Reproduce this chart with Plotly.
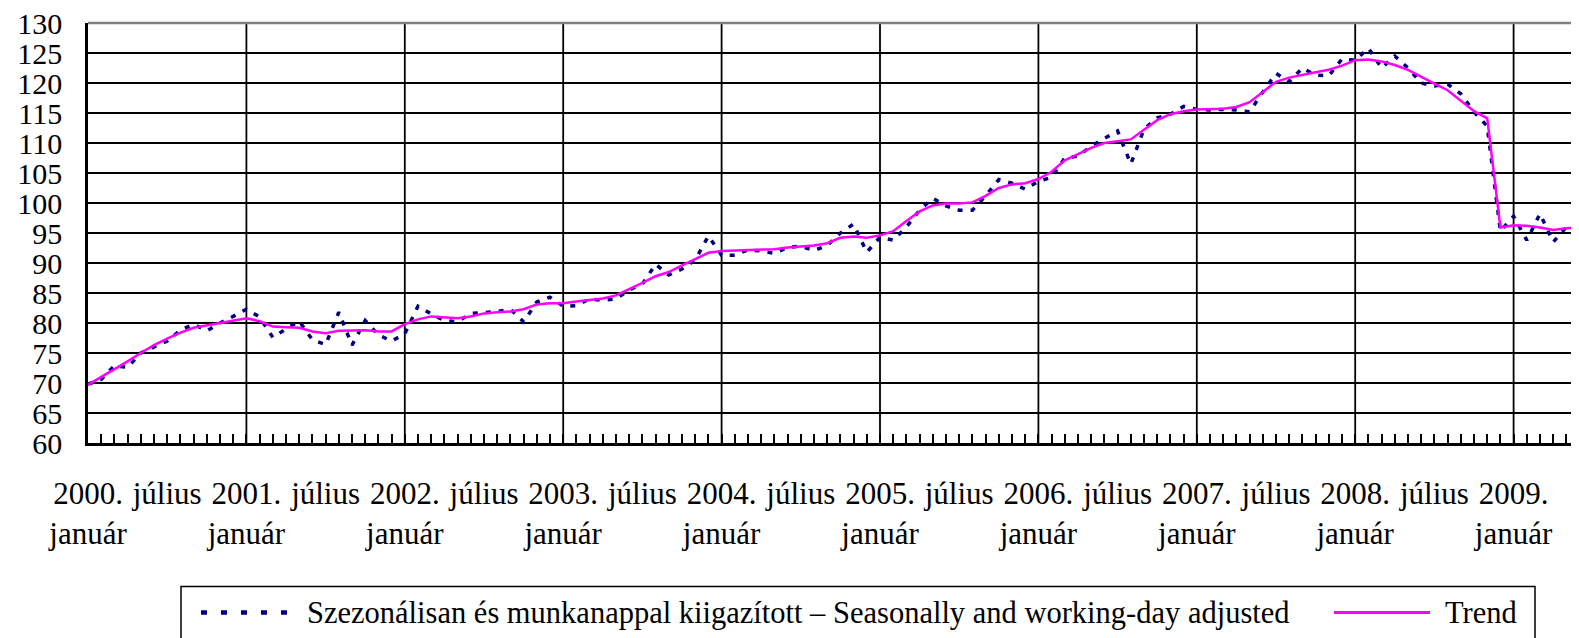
import plotly.graph_objects as go

# ---- data ----
years = list(range(2000, 2010))
month_names = ["január", "február", "március", "április", "május", "június",
               "július", "augusztus", "szeptember", "október", "november", "december"]

seasonally_adjusted = [
    69.8, 70.6, 72.9, 72.6, 75.0, 76.0, 77.0, 78.8, 79.8, 78.7, 80.0, 81.1,   # 2000
    82.3, 81.0, 77.6, 79.0, 80.3, 77.2, 76.4, 81.8, 76.3, 80.4, 78.0, 77.0,   # 2001
    78.2, 82.8, 81.5, 80.4, 80.2, 81.6, 81.8, 81.9, 82.3, 80.2, 83.5, 84.3,   # 2002
    82.8, 82.9, 84.0, 83.8, 84.0, 85.5, 86.5, 89.8, 88.0, 89.0, 90.5, 94.5,   # 2003
    91.3, 91.3, 92.2, 92.0, 91.6, 92.6, 92.8, 92.1, 92.9, 95.0, 96.5, 91.8,   # 2004
    94.3, 93.8, 96.0, 98.8, 100.8, 99.5, 98.8, 98.8, 101.2, 103.9, 103.3, 102.3,  # 2005
    103.6, 104.3, 107.5, 107.8, 109.5, 110.7, 112.0, 106.5, 112.3, 114.2, 114.8, 116.1,  # 2006
    115.6, 115.5, 115.6, 115.5, 115.2, 118.5, 121.6, 120.2, 122.5, 121.3, 121.2, 124.0,  # 2007
    123.8, 125.8, 122.5, 124.5, 122.5, 120.0, 119.5, 119.8, 118.2, 115.2, 112.8, 95.3,   # 2008
    97.8, 93.8, 98.2, 93.5, 96.0, 96.0,                                                   # 2009
]

trend = [
    69.7, 71.0, 72.2, 73.6, 75.0, 76.3, 77.4, 78.4, 79.2, 79.6, 80.1, 80.4,
    80.8, 80.3, 79.4, 79.3, 79.2, 78.6, 78.3, 78.7, 78.8, 78.8, 78.6, 78.6,
    79.8, 80.6, 81.1, 80.9, 80.8, 81.1, 81.6, 81.8, 81.9, 82.3, 83.1, 83.3,
    83.3, 83.6, 83.9, 84.1, 84.6, 85.6, 86.7, 87.8, 88.5, 89.6, 90.6, 91.7,
    92.0, 92.1, 92.1, 92.2, 92.3, 92.6, 92.8, 92.9, 93.3, 94.2, 94.4, 94.2,
    94.6, 95.3, 97.0, 98.6, 99.6, 99.9, 99.9, 100.1, 101.2, 102.5, 103.1, 103.3,
    104.0, 105.2, 107.1, 108.2, 109.2, 110.0, 110.3, 110.6, 112.2, 113.8, 114.8, 115.3,
    115.6, 115.6, 115.7, 116.0, 116.8, 118.5, 120.2, 120.9, 121.4, 121.8, 122.2, 122.9,
    123.8, 123.9, 123.6, 123.0, 122.2, 121.0, 119.9, 118.8, 117.1, 115.3, 114.1, 95.9,
    96.3, 96.2, 95.9, 95.5, 95.8, 95.9,
]

y_ticks = list(range(60, 131, 5))
sa_name = "Szezonálisan és munkanappal kiigazított – Seasonally and working-day adjusted"
trend_name = "Trend"

# ---- derived categories ----
n = len(trend)
idx = list(range(n))
tick_text = []
for i in idx:
    y, m = years[i // 12], i % 12
    if m == 0:
        tick_text.append(f"{y}.<br>{month_names[0]}")
    elif m == 6:
        tick_text.append(month_names[6])
    else:
        tick_text.append("")
jan_idx = [i for i in idx if i % 12 == 0]

# page body has an 8px default margin: figure origin sits at (8, 8) on screen
OFF = 8
W, H = 1579 - OFF, 638 - OFF
L = 88 - OFF
T = 23 - OFF
plot_bottom = 443.3 - OFF
B = H - plot_bottom
plot_w = W - L
plot_h = H - T - B
month_px = 13.2
x_max = plot_w / month_px

FONT = "Liberation Serif"

def px2x(px):          # screen px -> paper x
    return (px - OFF - L) / plot_w

def py2y(py):          # screen px -> paper y
    return (plot_bottom - (py - OFF)) / plot_h

fig = go.Figure()
fig.add_trace(go.Scatter(
    x=idx, y=seasonally_adjusted, mode="lines", name=sa_name,
    line=dict(color="#000080", width=3.5, dash="5px,8px"), showlegend=False,
))
fig.add_trace(go.Scatter(
    x=idx, y=trend, mode="lines", name=trend_name,
    line=dict(color="#FF00FF", width=2.5), showlegend=False,
))

shapes = []
# vertical year gridlines
for j in jan_idx[1:]:
    shapes.append(dict(type="line", xref="x", yref="paper", x0=j, x1=j, y0=0, y1=1,
                       line=dict(color="black", width=1.8), layer="below"))
# top border
shapes.append(dict(type="line", xref="paper", yref="paper", x0=0, x1=1, y0=1, y1=1,
                   line=dict(color="#808080", width=2.5)))
# legend box
shapes.append(dict(type="rect", xref="paper", yref="paper",
                   x0=px2x(181), x1=px2x(1535), y0=py2y(660), y1=py2y(587),
                   line=dict(color="black", width=1.5), fillcolor="rgba(0,0,0,0)"))
shapes.append(dict(type="line", xref="paper", yref="paper",
                   x0=px2x(201), x1=px2x(300), y0=py2y(613), y1=py2y(613),
                   line=dict(color="#000080", width=4.5, dash="6px,14px")))
shapes.append(dict(type="line", xref="paper", yref="paper",
                   x0=px2x(1334), x1=px2x(1430), y0=py2y(613), y1=py2y(613),
                   line=dict(color="#FF00FF", width=3)))

annotations = [
    dict(text=sa_name, xref="paper", yref="paper", x=px2x(305), y=py2y(613),
         xanchor="left", yanchor="middle", showarrow=False,
         font=dict(family=FONT, size=30.5, color="black")),
    dict(text=trend_name, xref="paper", yref="paper", x=px2x(1443), y=py2y(613),
         xanchor="left", yanchor="middle", showarrow=False,
         font=dict(family=FONT, size=30.5, color="black")),
]

fig.update_layout(
    width=W, height=H,
    margin=dict(l=L, r=0, t=T, b=B),
    paper_bgcolor="white", plot_bgcolor="white",
    shapes=shapes, annotations=annotations,
    xaxis=dict(
        range=[0, x_max], tickmode="array", tickvals=idx, ticktext=tick_text,
        ticks="inside", ticklen=9, tickwidth=1.5, tickcolor="black",
        showgrid=False, zeroline=False, automargin=False,
        showline=True, linecolor="black", linewidth=2.5,
        tickfont=dict(family=FONT, size=31, color="black"),
        tickangle=0, ticklabelstandoff=21, ticklabeloverflow="allow",
    ),
    yaxis=dict(
        range=[60, 130], tickmode="array", tickvals=y_ticks,
        showgrid=True, gridcolor="black", gridwidth=1.8, zeroline=False,
        showline=True, linecolor="black", linewidth=2.5, automargin=False,
        ticks="", tickfont=dict(family=FONT, size=30, color="black"),
        ticklabelstandoff=17, ticklabeloverflow="allow",
    ),
)

fig.write_html("out.html")
